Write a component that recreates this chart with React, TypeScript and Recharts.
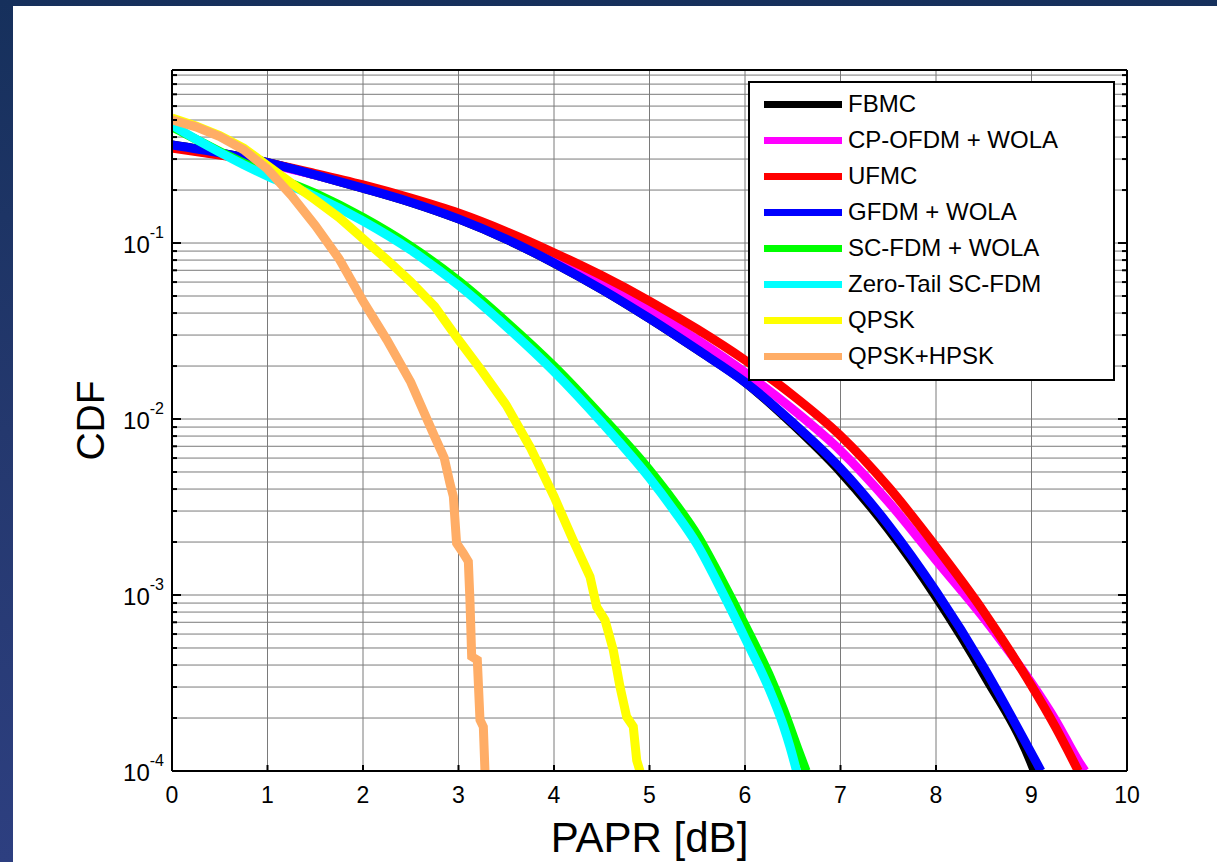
import React from 'react';
import { LineChart, Line, XAxis, YAxis, CartesianGrid, Legend } from 'recharts';

// ---- data (PAPR in dB, CDF values) ----
const fbmcX = [0, 0.5, 1, 1.5, 2, 2.5, 3, 3.5, 4, 4.5, 5, 5.5, 6, 6.5, 7, 7.5, 8, 8.5, 9, 9.03];
const fbmcY = [0.3606, 0.3251, 0.2864, 0.2438, 0.2051, 0.1706, 0.1371, 0.1052, 0.0771, 0.0546, 0.0373, 0.0248, 0.0162, 0.00933, 0.00501, 0.00237, 0.000977, 0.000355, 0.00011, 0.0001];

const cpofdmX = [0, 0.5, 1, 1.5, 2, 2.5, 3, 3.5, 4, 4.5, 5, 5.5, 6, 6.5, 7, 7.5, 8, 8.5, 9, 9.25, 9.5, 9.56];
const cpofdmY = [0.3508, 0.3177, 0.2831, 0.2438, 0.2065, 0.1726, 0.1413, 0.1096, 0.0822, 0.0596, 0.0417, 0.0282, 0.0184, 0.01135, 0.00661, 0.00339, 0.00158, 0.000741, 0.000316, 0.000195, 0.000112, 0.0001];

const ufmcX = [0, 0.5, 1, 1.5, 2, 2.5, 3, 3.5, 4, 4.5, 5, 5.5, 6, 6.5, 7, 7.5, 8, 8.5, 9, 9.25, 9.49];
const ufmcY = [0.3467, 0.3162, 0.2851, 0.2483, 0.2138, 0.1799, 0.1479, 0.1161, 0.0881, 0.0653, 0.0468, 0.0324, 0.0216, 0.01365, 0.00804, 0.00412, 0.00188, 0.000804, 0.000305, 0.000178, 0.0001];

const gfdmX = [0, 0.5, 1, 1.5, 2, 2.5, 3, 3.5, 4, 4.5, 5, 5.5, 6, 6.5, 7, 7.5, 8, 8.5, 9, 9.1];
const gfdmY = [0.3606, 0.3251, 0.2864, 0.2438, 0.2051, 0.1706, 0.1371, 0.1052, 0.0771, 0.0546, 0.0373, 0.0248, 0.0162, 0.00955, 0.00525, 0.00251, 0.00105, 0.000389, 0.000126, 0.0001];

const scfdmX = [0, 0.25, 0.5, 0.75, 1, 1.5, 2, 2.5, 3, 3.5, 4, 4.5, 5, 5.25, 5.5, 5.75, 6, 6.25, 6.4, 6.55, 6.64];
const scfdmY = [0.4571, 0.389, 0.3311, 0.2851, 0.2472, 0.1914, 0.1396, 0.0959, 0.061, 0.0357, 0.01995, 0.01035, 0.00513, 0.00343, 0.00219, 0.00124, 0.000676, 0.000355, 0.000226, 0.000135, 0.0001];

const ztX = [0, 0.25, 0.5, 0.75, 1, 1.5, 2, 2.5, 3, 3.5, 4, 4.5, 5, 5.25, 5.5, 5.75, 6, 6.25, 6.4, 6.47, 6.54];
const ztY = [0.4677, 0.389, 0.3273, 0.2786, 0.2399, 0.1841, 0.1334, 0.0912, 0.0575, 0.0335, 0.0186, 0.00955, 0.00462, 0.00305, 0.00193, 0.00107, 0.000569, 0.000295, 0.000182, 0.000138, 0.0001];

const qpskX = [0, 0.25, 0.5, 0.75, 1, 1.25, 1.5, 1.75, 2, 2.25, 2.5, 2.75, 3, 3.25, 3.5, 3.75, 4, 4.2, 4.377, 4.447, 4.534, 4.621, 4.691, 4.761, 4.83, 4.866, 4.9];
const qpskY = [0.5129, 0.4624, 0.4074, 0.3467, 0.2754, 0.2188, 0.1758, 0.1396, 0.1059, 0.0804, 0.0603, 0.0437, 0.0282, 0.0186, 0.012, 0.00692, 0.00363, 0.00205, 0.00127, 0.000857, 0.000721, 0.000486, 0.000301, 0.000203, 0.000179, 0.000115, 0.0001];

const hpskX = [0, 0.25, 0.5, 0.75, 1, 1.25, 1.5, 1.75, 2, 2.25, 2.5, 2.75, 2.85, 2.91, 2.946, 2.98, 3.05, 3.103, 3.12, 3.138, 3.197, 3.225, 3.26, 3.277];
const hpskY = [0.5012, 0.4571, 0.4027, 0.3388, 0.263, 0.1862, 0.1259, 0.0813, 0.0468, 0.0282, 0.0162, 0.00794, 0.00603, 0.00432, 0.00363, 0.00197, 0.00173, 0.00155, 0.00093, 0.000447, 0.000427, 0.000195, 0.000178, 0.0001];

const seriesNames = ['FBMC', 'CP-OFDM + WOLA', 'UFMC', 'GFDM + WOLA', 'SC-FDM + WOLA', 'Zero-Tail SC-FDM', 'QPSK', 'QPSK+HPSK'];
const seriesColors = ['#000000', '#ff00ff', '#ff0000', '#0000ff', '#00ff00', '#00ffff', '#ffff00', '#ffad66'];
const seriesCurve = ['monotone', 'monotone', 'monotone', 'monotone', 'monotone', 'monotone', 'linear', 'linear'];
const seriesXs = [fbmcX, cpofdmX, ufmcX, gfdmX, scfdmX, ztX, qpskX, hpskX];
const seriesYs = [fbmcY, cpofdmY, ufmcY, gfdmY, scfdmY, ztY, qpskY, hpskY];

const xTicks = [0, 1, 2, 3, 4, 5, 6, 7, 8, 9, 10];
const yTicks = [
  0.0001, 0.0002, 0.0003, 0.0004, 0.0005, 0.0006, 0.0007, 0.0008, 0.0009,
  0.001, 0.002, 0.003, 0.004, 0.005, 0.006, 0.007, 0.008, 0.009,
  0.01, 0.02, 0.03, 0.04, 0.05, 0.06, 0.07, 0.08, 0.09,
  0.1, 0.2, 0.3, 0.4, 0.5, 0.6, 0.7, 0.8, 0.9,
];
const decadeExp: Record<string, string> = { '0.0001': '-4', '0.001': '-3', '0.01': '-2', '0.1': '-1' };
const yDomain: [number, number] = [0.0001, 0.962];

const FONT = '"Liberation Sans", Arial, Helvetica, sans-serif';

const series = seriesNames.map((name, i) => ({
  name,
  color: seriesColors[i],
  curve: seriesCurve[i],
  data: seriesXs[i].map((x, j) => ({ x, y: seriesYs[i][j] })),
}));

const LeftTick = (props: any) => {
  const { x, y, payload } = props;
  const exp = decadeExp[String(payload.value)];
  const len = exp ? 9 : 5;
  return (
    <g>
      <line x1={x} x2={x + len} y1={y} y2={y} stroke="#000" strokeWidth={2} />
      {exp && (
        <text x={x - 8} y={y + 10} textAnchor="end" fontSize={24} fill="#000" fontFamily={FONT}>
          10
          <tspan dy={-15} fontSize={16}>{exp}</tspan>
        </text>
      )}
    </g>
  );
};

const RightTick = (props: any) => {
  const { x, y, payload } = props;
  const exp = decadeExp[String(payload.value)];
  const len = exp ? 9 : 5;
  return <line x1={x} x2={x - len} y1={y} y2={y} stroke="#000" strokeWidth={2} />;
};

const BottomTick = (props: any) => {
  const { x, y, payload } = props;
  return (
    <g>
      <line x1={x} x2={x} y1={y} y2={y - 6} stroke="#000" strokeWidth={2} />
      <text x={x} y={y + 32} textAnchor="middle" fontSize={23} fill="#000" fontFamily={FONT}>
        {payload.value}
      </text>
    </g>
  );
};

const TopTick = (props: any) => {
  const { x, y } = props;
  return <line x1={x} x2={x} y1={y} y2={y + 6} stroke="#000" strokeWidth={2} />;
};

const renderLegend = () => (
  <div
    style={{
      border: '2px solid #000',
      background: '#fff',
      width: 367,
      height: 300,
      paddingTop: 3,
      boxSizing: 'border-box',
      fontFamily: FONT,
    }}
  >
    {series.map((s) => (
      <div key={s.name} style={{ display: 'flex', alignItems: 'center', height: 36 }}>
        <span style={{ display: 'inline-block', width: 78, height: 7, background: s.color, marginLeft: 14 }} />
        <span style={{ marginLeft: 6, fontSize: 24, color: '#000', whiteSpace: 'nowrap' }}>{s.name}</span>
      </div>
    ))}
  </div>
);

export default function App() {
  return (
    <div
      style={{
        position: 'fixed',
        left: 0,
        top: 0,
        width: 1217,
        height: 862,
        background: 'linear-gradient(to bottom, #16305c 0%, #24386e 50%, #2d3f80 100%)',
        overflow: 'hidden',
      }}
    >
      <div style={{ position: 'absolute', left: 13, top: 6, right: 0, bottom: 0, background: '#fff' }} />
      <div style={{ position: 'absolute', left: 0, top: 0 }}>
        <LineChart width={1217} height={862} margin={{ top: 68, right: 88, bottom: 0, left: 72 }}>
          <CartesianGrid stroke="#7a7a7a" strokeWidth={1} />
          <XAxis
            dataKey="x"
            type="number"
            domain={[0, 10]}
            ticks={xTicks}
            interval={0}
            height={91}
            tickSize={0}
            tickMargin={0}
            tick={<BottomTick />}
            axisLine={{ stroke: '#000', strokeWidth: 2 }}
            allowDataOverflow
            label={{
              content: (p: any) => {
                const vb = p.viewBox || {};
                return (
                  <text x={vb.x + vb.width / 2} y={vb.y + 81} textAnchor="middle" fontSize={42} fill="#000" fontFamily={FONT}>
                    PAPR [dB]
                  </text>
                );
              },
            }}
          />
          <XAxis
            xAxisId="top"
            orientation="top"
            type="number"
            domain={[0, 10]}
            ticks={xTicks}
            interval={0}
            height={2}
            tickSize={0}
            tickMargin={0}
            tick={<TopTick />}
            axisLine={{ stroke: '#000', strokeWidth: 2 }}
          />
          <YAxis
            type="number"
            scale="log"
            domain={yDomain}
            ticks={yTicks}
            interval={0}
            width={100}
            tickSize={0}
            tickMargin={0}
            tick={<LeftTick />}
            axisLine={{ stroke: '#000', strokeWidth: 2 }}
            allowDataOverflow
            label={{
              content: (p: any) => {
                const vb = p.viewBox || {};
                const cx = vb.x + 32;
                const cy = vb.y + vb.height / 2;
                return (
                  <text x={cx} y={cy} transform={`rotate(-90, ${cx}, ${cy})`} textAnchor="middle" fontSize={39} fill="#000" fontFamily={FONT}>
                    CDF
                  </text>
                );
              },
            }}
          />
          <YAxis
            yAxisId="right"
            orientation="right"
            type="number"
            scale="log"
            domain={yDomain}
            ticks={yTicks}
            interval={0}
            width={2}
            tickSize={0}
            tickMargin={0}
            tick={<RightTick />}
            axisLine={{ stroke: '#000', strokeWidth: 2 }}
            allowDataOverflow
          />
          <Legend
            layout="vertical"
            verticalAlign="middle"
            align="center"
            content={renderLegend}
            wrapperStyle={{ left: 748, top: 81, width: 367, height: 300 }}
          />
          {series.map((s) => (
            <Line
              key={s.name}
              name={s.name}
              data={s.data}
              dataKey="y"
              type={s.curve as any}
              stroke={s.color}
              strokeWidth={9}
              dot={false}
              activeDot={false}
              isAnimationActive={false}
              legendType="line"
            />
          ))}
        </LineChart>
      </div>
    </div>
  );
}
